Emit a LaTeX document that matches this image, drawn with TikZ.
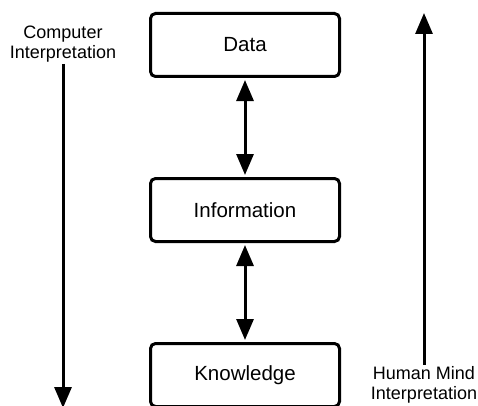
\documentclass[tikz,border=0pt]{standalone}
\usepackage{fontspec}
\setmainfont{Liberation Sans}
\usepackage{tikz}
\usetikzlibrary{arrows.meta, positioning}

\begin{document}
\begin{tikzpicture}[
    x=1pt, y=1pt,
    node distance = 99pt,
    >={Triangle[length=21pt, width=17pt]},
    box/.style = {rectangle, rounded corners=5pt, draw=black, line width=3pt,
                  minimum width=189pt, minimum height=63pt, align=center,
                  font=\fontsize{20.5}{24}\selectfont},
    side/.style = {align=center, inner sep=2pt,
                   font=\fontsize{18}{20}\selectfont},
    arrow/.style = {->, line width=3pt},
    twoway/.style = {<->, line width=3pt, shorten <=2pt, shorten >=2pt}
]
\useasboundingbox (0,0) rectangle (478,405);

% Levels
\node[box] (data) at (245,360) {Data};
\node[box, below=of data] (info) {Information};
\node[box, below=of info] (know) {Knowledge};

% Side labels
\node[side, anchor=south] (computer) at (63,341) {Computer\\Interpretation};
\node[side, anchor=north] (human) at (424,40.5) {Human Mind\\Interpretation};
\coordinate (computerend) at (63,-3);
\coordinate (humanend) at (424,392);

% Arrows
\draw[twoway] (data) -- (info);
\draw[twoway] (info) -- (know);
\draw[arrow] (computer) -- (computerend);
\draw[arrow] (human) -- (humanend);

\end{tikzpicture}
\end{document}
